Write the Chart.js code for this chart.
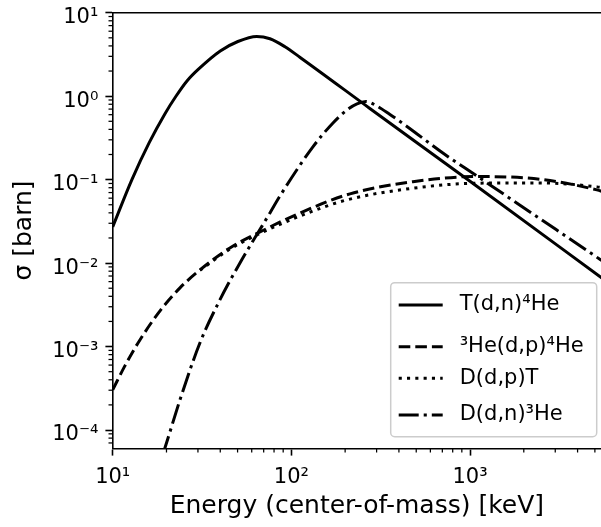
<!DOCTYPE html>
<html>
<head>
<meta charset="utf-8">
<script src="https://cdn.jsdelivr.net/npm/chart.js@4.4.1/dist/chart.umd.min.js"></script>
<style>
  html, body { margin: 0; padding: 0; background: #fff; }
  #wrap { width: 601px; height: 527px; }
</style>
</head>
<body>
<div id="wrap"><canvas id="sigmaChart"></canvas></div>
<script>
// cross sections: energy in keV (centre of mass), sigma in barn
var dtEnergy = [10, 12.81, 16.01, 19.62, 22.6, 26.05, 30.1, 40.0, 50.2, 63.96, 75.9, 92.1, 112, 275, 1000, 5600];
var dtSigma = [0.0272, 0.1002, 0.2773, 0.617, 0.997, 1.52, 2.09, 3.48, 4.52, 5.19, 4.87, 3.91, 2.91, 0.713, 0.0955, 0.0064];

var he3Energy = [10, 11.7, 14.2, 18.4, 23.8, 30.8, 45.3, 66.7, 112, 213, 479, 1093, 2461, 5130, 6066];
var he3Sigma = [3.03e-4, 5.87e-4, 1.2e-3, 2.68e-3, 5.05e-3, 8.29e-3, 0.0152, 0.0236, 0.0399, 0.0675, 0.0946, 0.109, 0.101, 0.0753, 0.0675];

var ddpEnergy = [30.8, 45.3, 66.7, 112, 204, 479, 1093, 2461, 5130, 6066];
var ddpSigma = [8.2e-3, 0.0147, 0.0227, 0.0367, 0.0571, 0.0789, 0.0906, 0.0914, 0.0819, 0.0775];

var ddnEnergy = [19, 19.6, 23.8, 30.8, 39.8, 52.7, 64, 75.9, 86.4, 132, 171, 205, 233, 261.5, 297.5, 356.3, 432.3, 707.9, 1089, 2461, 5402, 6867];
var ddnSigma = [5.0e-5, 6.1e-5, 2.3e-4, 1.11e-3, 3.62e-3, 0.0109, 0.0218, 0.0399, 0.0638, 0.247, 0.478, 0.684, 0.807, 0.864, 0.774, 0.604, 0.452, 0.207, 0.111, 0.0341, 0.0109, 0.00766];

var seriesNames = ['T(d,n)⁴He', '³He(d,p)⁴He', 'D(d,p)T', 'D(d,n)³He'];

var xTicks = [10, 100, 1000];
var yTicks = [1e-4, 1e-3, 1e-2, 1e-1, 1, 10];
var xMin = 10, xMax = 5410;
var yMin = 6.04e-5, yMax = 10;

function toPoints(xs, ys) {
    return xs.map(function (x, i) { return { x: x, y: ys[i] }; });
}

var supMap = { '-': '⁻', '0': '⁰', '1': '¹', '2': '²', '3': '³', '4': '⁴', '5': '⁵', '6': '⁶', '7': '⁷', '8': '⁸', '9': '⁹' };
function powerLabel(v) {
    var e = Math.round(Math.log10(v));
    return '10' + String(e).split('').map(function (c) { return supMap[c]; }).join('');
}

// minor log ticks and the top spine, placed through the scales
var axisExtras = {
    id: 'axisExtras',
    afterDraw: function (chart) {
        var ctx = chart.ctx, area = chart.chartArea;
        var xs = chart.scales.x, ys = chart.scales.y;
        ctx.save();
        ctx.strokeStyle = '#000';
        ctx.lineWidth = 1.25;
        for (var d = 0; d <= 4; d++) {
            for (var m = 2; m <= 9; m++) {
                var v = m * Math.pow(10, d);
                if (v <= xMin || v >= xMax) continue;
                var px = xs.getPixelForValue(v);
                ctx.beginPath();
                ctx.moveTo(px, area.bottom);
                ctx.lineTo(px, area.bottom + 4.2);
                ctx.stroke();
            }
        }
        for (var e = -5; e <= 1; e++) {
            for (var k = 2; k <= 9; k++) {
                var w = k * Math.pow(10, e);
                if (w <= yMin || w >= yMax) continue;
                var py = ys.getPixelForValue(w);
                ctx.beginPath();
                ctx.moveTo(area.left, py);
                ctx.lineTo(area.left - 4.2, py);
                ctx.stroke();
            }
        }
        ctx.lineWidth = 1.6;
        ctx.beginPath();
        ctx.moveTo(area.left, area.top);
        ctx.lineTo(area.right, area.top);
        ctx.stroke();
        ctx.restore();
    }
};

// legend drawn inside the lower right corner, like the original
var cornerLegend = {
    id: 'cornerLegend',
    afterDraw: function (chart) {
        var ctx = chart.ctx, area = chart.chartArea;
        var boxW = 206, boxH = 154;
        var x0 = area.right - 4.3 - boxW, y0 = area.bottom - 11.6 - boxH;
        var rows = [22.3, 64, 95.6, 132.3];
        ctx.save();
        ctx.beginPath();
        ctx.roundRect(x0, y0, boxW, boxH, 4);
        ctx.fillStyle = 'rgba(255,255,255,0.8)';
        ctx.fill();
        ctx.strokeStyle = '#cccccc';
        ctx.lineWidth = 1.5;
        ctx.stroke();
        ctx.font = '21px "DejaVu Sans"';
        ctx.textBaseline = 'middle';
        ctx.textAlign = 'left';
        chart.data.datasets.forEach(function (ds, i) {
            var y = y0 + rows[i];
            ctx.strokeStyle = ds.borderColor;
            ctx.lineWidth = ds.borderWidth;
            ctx.lineCap = 'butt';
            ctx.setLineDash(ds.borderDash || []);
            ctx.beginPath();
            ctx.moveTo(x0 + 8, y);
            ctx.lineTo(x0 + 52, y);
            ctx.stroke();
            ctx.setLineDash([]);
            ctx.fillStyle = '#000';
            ctx.fillText(ds.label, x0 + 69, y);
        });
        ctx.restore();
    }
};

function lineSet(label, xs, ys, dash) {
    return {
        label: label,
        data: toPoints(xs, ys),
        borderColor: '#000',
        borderWidth: 3,
        borderDash: dash,
        pointRadius: 0,
        fill: false,
        cubicInterpolationMode: 'monotone',
        clip: 0
    };
}

var sigmaChart = new Chart(document.getElementById('sigmaChart'), {
    type: 'line',
    data: {
        datasets: [
            lineSet(seriesNames[0], dtEnergy, dtSigma, []),
            lineSet(seriesNames[1], he3Energy, he3Sigma, [11.6, 5]),
            lineSet(seriesNames[2], ddpEnergy, ddpSigma, [3.1, 5.2]),
            lineSet(seriesNames[3], ddnEnergy, ddnSigma, [20, 5, 3.1, 5])
        ]
    },
    options: {
        responsive: true,
        maintainAspectRatio: false,
        animation: false,
        layout: { padding: { top: 12.7, right: 0, bottom: 0, left: 0 } },
        plugins: {
            legend: { display: false },
            tooltip: { enabled: false }
        },
        scales: {
            x: {
                type: 'logarithmic',
                min: xMin,
                max: xMax,
                afterBuildTicks: function (scale) {
                    scale.ticks = xTicks.map(function (v) { return { value: v }; });
                },
                afterFit: function (scale) { scale.height = 78.7; },
                grid: { drawOnChartArea: false, drawTicks: true, tickLength: 7.3, color: '#000', tickColor: '#000', tickWidth: 1.6 },
                border: { display: true, color: '#000', width: 1.6 },
                ticks: {
                    autoSkip: false,
                    maxRotation: 0,
                    padding: 9.8,
                    color: '#000',
                    font: { family: 'DejaVu Sans', size: 21 },
                    callback: function (v) { return powerLabel(v); }
                },
                title: {
                    display: true,
                    text: 'Energy (center-of-mass) [keV]',
                    color: '#000',
                    font: { family: 'DejaVu Sans', size: 25 },
                    padding: { top: 0, bottom: 5.7 }
                }
            },
            y: {
                type: 'logarithmic',
                min: yMin,
                max: yMax,
                afterBuildTicks: function (scale) {
                    scale.ticks = yTicks.map(function (v) { return { value: v }; });
                },
                afterFit: function (scale) { scale.width = 112.7; },
                grid: { drawOnChartArea: false, drawTicks: true, tickLength: 7.3, color: '#000', tickColor: '#000', tickWidth: 1.6 },
                border: { display: true, color: '#000', width: 1.6 },
                ticks: {
                    autoSkip: false,
                    padding: 7,
                    labelOffset: 5,
                    color: '#000',
                    font: { family: 'DejaVu Sans', size: 21, lineHeight: 0.5 },
                    callback: function (v) { return powerLabel(v); }
                },
                title: {
                    display: true,
                    text: 'σ [barn]',
                    color: '#000',
                    font: { family: 'DejaVu Sans', size: 25 },
                    padding: { top: 9.7, bottom: 0 }
                }
            }
        }
    },
    plugins: [axisExtras, cornerLegend]
});
</script>
</body>
</html>
